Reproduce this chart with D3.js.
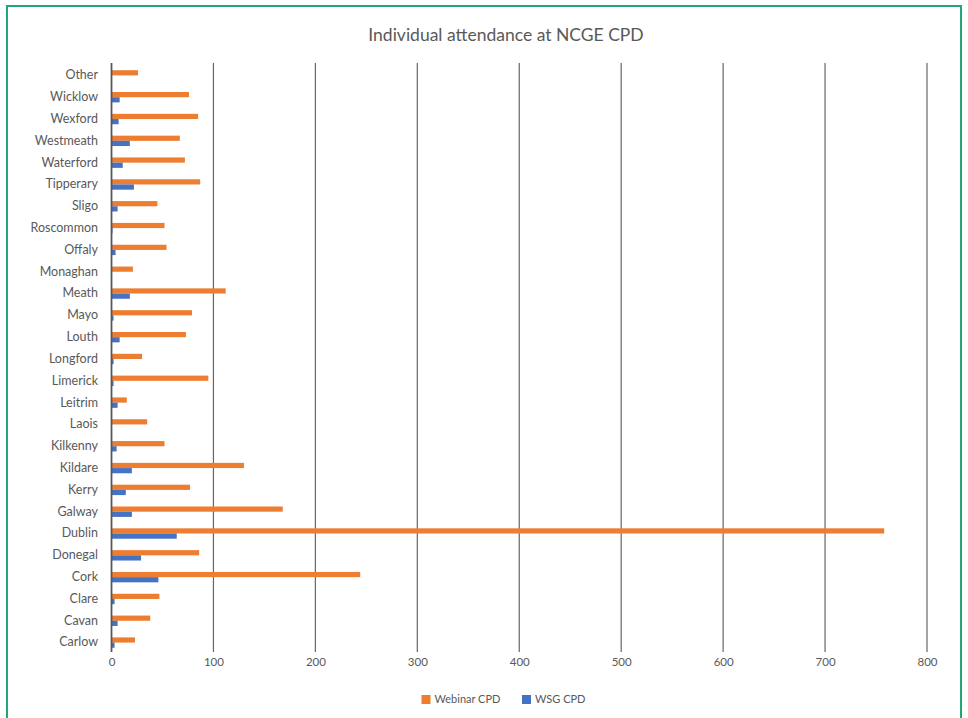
<!DOCTYPE html>
<html>
<head>
<meta charset="utf-8">
<script src="https://cdn.jsdelivr.net/npm/d3@7"></script>
<style>
  body { margin: 0; background: #fff; }
  text { font-family: Lato, "Open Sans", sans-serif; fill: #595959; }
</style>
</head>
<body>
<div class="canvas"></div>
<script>
// counties, top to bottom as drawn
var counties = ['Other', 'Wicklow', 'Wexford', 'Westmeath', 'Waterford', 'Tipperary', 'Sligo',
  'Roscommon', 'Offaly', 'Monaghan', 'Meath', 'Mayo', 'Louth', 'Longford', 'Limerick', 'Leitrim',
  'Laois', 'Kilkenny', 'Kildare', 'Kerry', 'Galway', 'Dublin', 'Donegal', 'Cork', 'Clare', 'Cavan', 'Carlow'];
var webinar = [26, 76, 85, 67, 72, 87, 45, 52, 54, 21, 112, 79, 73, 30, 95, 15,
  35, 52, 130, 77, 168, 758, 86, 244, 47, 38, 23];
var wsg = [0, 8, 7, 18, 11, 22, 6, 1, 4, 0, 18, 2, 8, 2, 2, 6,
  0, 5, 20, 14, 20, 64, 29, 46, 3, 6, 3];
var seriesNames = ['Webinar CPD', 'WSG CPD'];
var seriesColours = ['#ED7D31', '#4472C4'];
var xTicks = [0, 100, 200, 300, 400, 500, 600, 700, 800];

var width = 968;
var height = 718;

var svg = d3.select('.canvas')
  .append('svg')
  .attr('width', width)
  .attr('height', height);

// green frame
svg.append('rect')
  .attr('x', 7).attr('y', 6)
  .attr('width', 954).attr('height', 720)
  .attr('fill', 'none')
  .attr('stroke', '#1FA874')
  .attr('stroke-width', 2);

svg.append('text')
  .attr('x', 506)
  .attr('y', 41)
  .attr('text-anchor', 'middle')
  .style('font-size', '17.5px')
  .text('Individual attendance at NCGE CPD');

var xscale = d3.scaleLinear()
  .domain([0, 800])
  .range([111.5, 927]);

var yscale = d3.scaleBand()
  .domain(counties)
  .range([63, 652]);

var sub = d3.scaleBand()
  .domain(seriesNames)
  .range([0, yscale.bandwidth()])
  .paddingOuter(1.1);

// gridlines
svg.append('g')
  .selectAll('line')
  .data(xTicks.slice(1))
  .enter()
  .append('line')
  .attr('x1', function(d) { return xscale(d); })
  .attr('x2', function(d) { return xscale(d); })
  .attr('y1', 63)
  .attr('y2', 652)
  .attr('stroke', '#666')
  .attr('stroke-width', 1.2);

var rows = counties.map(function(c, i) {
  return { county: c, values: [webinar[i], wsg[i]] };
});

// bars sit a little below the band centre in the original
var groups = svg.selectAll('.row')
  .data(rows)
  .enter()
  .append('g')
  .attr('class', 'row')
  .attr('transform', function(d) { return 'translate(0,' + (yscale(d.county) + 1.5) + ')'; });

groups.selectAll('rect')
  .data(function(d) { return d.values.map(function(v, j) { return { name: seriesNames[j], value: v, colour: seriesColours[j] }; }); })
  .enter()
  .append('rect')
  .attr('x', xscale(0))
  .attr('y', function(d) { return sub(d.name); })
  .attr('width', function(d) { return xscale(d.value) - xscale(0); })
  .attr('height', sub.bandwidth())
  .attr('fill', function(d) { return d.colour; });

// y axis line + labels
svg.append('line')
  .attr('x1', xscale(0)).attr('x2', xscale(0))
  .attr('y1', 63).attr('y2', 652)
  .attr('stroke', '#595959')
  .attr('stroke-width', 1.8);

svg.append('g')
  .selectAll('text')
  .data(counties)
  .enter()
  .append('text')
  .attr('x', 98)
  .attr('y', function(d) { return yscale(d) + yscale.bandwidth() / 2 + 1; })
  .attr('dy', '0.35em')
  .attr('text-anchor', 'end')
  .style('font-size', '12.5px')
  .text(function(d) { return d; });

// x tick labels
var xaxis = d3.axisBottom(xscale).tickValues(xTicks).tickSize(0).tickPadding(6);
var gx = svg.append('g')
  .attr('transform', 'translate(0,652)')
  .call(xaxis);
gx.select('.domain').remove();
gx.selectAll('text')
  .style('font-size', '11.5px')
  .style('font-family', 'Lato, "Open Sans", sans-serif')
  .attr('fill', '#595959');

// legend
var legend = svg.append('g')
  .selectAll('g')
  .data(seriesNames)
  .enter()
  .append('g')
  .attr('transform', function(d, i) { return 'translate(' + [421.5, 522][i] + ',695)'; });
legend.append('rect')
  .attr('width', 9).attr('height', 9)
  .attr('fill', function(d, i) { return seriesColours[i]; });
legend.append('text')
  .attr('x', 13)
  .attr('y', 4.5)
  .attr('dy', '0.35em')
  .style('font-size', '11px')
  .text(function(d) { return d; });
</script>
</body>
</html>
